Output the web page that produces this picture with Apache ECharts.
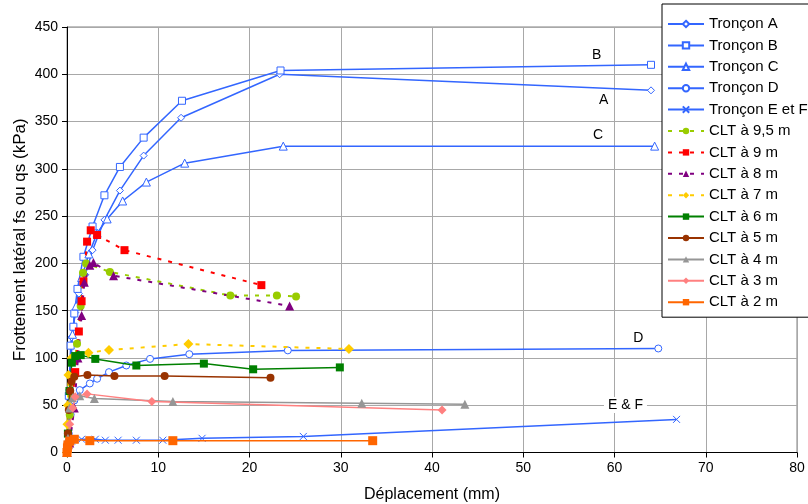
<!DOCTYPE html>
<html><head><meta charset="utf-8">
<script src="https://cdn.jsdelivr.net/npm/echarts@6/dist/echarts.min.js"></script>
<style>html,body{margin:0;padding:0;background:#fff}#c{width:808px;height:504px}</style>
</head><body><div id="c"></div>
<script>
// ---- data (x: déplacement mm, y: kPa) ----
const tronconA = [[0,0],[0.2,60],[0.5,122],[0.9,148],[1.3,168],[2.0,188],[2.8,214],[4.1,246],[5.8,277],[8.4,314],[12.5,354],[23.3,400],[64,383]];
const tronconB = [[0,0],[0.2,60],[0.4,113],[0.7,133],[0.8,147],[1.15,173],[1.8,207],[2.8,239],[4.1,272],[5.8,302],[8.4,333],[12.6,372],[23.4,404],[64,410]];
const tronconC = [[0,0],[0.3,70],[0.6,125],[1.0,155],[1.6,185],[2.4,210],[3.3,232],[4.4,247],[6.1,266],[8.7,286],[12.9,306],[23.7,324],[64.4,324]];
const tronconD = [[0,0],[0.2,20],[0.4,40],[0.8,55],[1.4,66],[2.5,73],[3.3,78],[4.6,85],[6.5,92],[9.1,99],[13.4,104],[24.2,108],[64.8,110]];
const tronconEF = [[0,0],[0.2,8],[0.5,12],[1.6,14],[3.1,14],[4.2,13],[5.6,13],[7.6,13],[10.5,13],[14.8,15],[25.9,17],[66.8,35]];
const clt95 = [[0,0],[0.3,40],[0.6,80],[1.1,115],[1.5,155],[1.75,190],[2.1,200],[4.7,191],[17.9,166],[23.0,166],[25.1,165]];
const clt9 = [[0,0],[0.9,85],[1.3,128],[1.6,160],[1.8,181],[2.2,223],[2.6,235],[3.3,230],[6.3,214],[21.3,177]];
const clt8 = [[0,0],[0.3,10],[0.8,47],[1.2,100],[1.6,145],[1.9,180],[2.5,198],[2.9,201],[5.1,187],[24.4,155]];
const clt7 = [[0,0],[0.05,30],[0.1,50],[0.16,82],[0.5,100],[2.35,105.5],[4.6,108.4],[13.3,114.7],[30.9,109.5]];
const clt6 = [[0,0],[0.1,20],[0.27,65],[0.53,95],[0.9,102],[1.5,103],[3.1,99],[7.6,92],[15.0,94],[20.4,88],[29.9,90]];
const clt5 = [[0,0],[0.1,20],[0.2,45],[0.35,65],[0.5,75],[0.8,80],[2.24,82],[5.2,81],[10.7,81],[22.3,79]];
const clt4 = [[0,0],[0.1,15],[0.27,47],[0.6,58],[1.4,60],[3.0,57],[11.6,54],[32.3,52],[43.6,51]];
const clt3 = [[0,0],[0.1,10],[0.3,30],[0.64,47],[0.9,59],[2.2,62],[9.3,54],[41.1,45]];
const clt2 = [[0,0],[0.05,5],[0.1,8],[0.3,12],[0.8,14],[2.5,12.5],[11.6,12.5],[33.5,12.5]];

const seriesNames = ['Tronçon A','Tronçon B','Tronçon C','Tronçon D','Tronçon E et F',
  'CLT à 9,5 m','CLT à 9 m','CLT à 8 m','CLT à 7 m','CLT à 6 m','CLT à 5 m','CLT à 4 m','CLT à 3 m','CLT à 2 m'];

const curveLabels = ['A','B','C','D','E & F'];
const curveLabelPos = [[58.8,372.8],[58.05,420.4],[58.2,335.8],[62.6,121],[61.2,50.2]];

const xTicks = {min:0,max:80,interval:10};
const yTicks = {min:0,max:450,interval:50};

// ---- styles ----
const blue = '#3366FF';
const FONT = 'Liberation Sans, Arial, sans-serif';
const crossPath = 'path://M0,0L10,10M10,0L0,10';

function tron(name, data, symbol, size, idx){
  return {
    name, type:'line', data, symbol, symbolSize:size, showAllSymbol:true,
    lineStyle:{color:blue, width:1.5},
    itemStyle:{color:'#fff', borderColor:blue, borderWidth:1},
    emphasis:{disabled:true}, z:2,
    markPoint:{
      symbol:'circle', symbolSize:0, silent:true,
      data:[{coord:curveLabelPos[idx], value:curveLabels[idx]}],
      label:{show:true, position:'inside', formatter:curveLabels[idx], color:'#000', fontSize:14, fontFamily:FONT,
        backgroundColor: curveLabels[idx]==='E & F' ? '#fff' : 'transparent', padding:[1,4]}
    }
  };
}
function clt(name, data, color, symbol, size, dashed){
  return {
    name, type:'line', data, symbol, symbolSize:size, showAllSymbol:true,
    lineStyle:{color, width: dashed?2:1.5, type: dashed?[4,7]:'solid'},
    itemStyle:{color, borderColor:color, borderWidth:0},
    emphasis:{disabled:true}, z:3
  };
}

const series = [
  tron(seriesNames[0], tronconA, 'diamond', 7, 0),
  tron(seriesNames[1], tronconB, 'rect', 7, 1),
  tron(seriesNames[2], tronconC, 'triangle', 8, 2),
  tron(seriesNames[3], tronconD, 'circle', 7, 3),
  tron(seriesNames[4], tronconEF, crossPath, 7, 4),
  clt(seriesNames[5], clt95, '#99CC00', 'circle', 8, true),
  clt(seriesNames[6], clt9, '#FF0000', 'rect', 8, true),
  clt(seriesNames[7], clt8, '#800080', 'triangle', 9, true),
  clt(seriesNames[8], clt7, '#FFCC00', 'diamond', 10, true),
  clt(seriesNames[9], clt6, '#008000', 'rect', 8, false),
  clt(seriesNames[10], clt5, '#993300', 'circle', 8, false),
  clt(seriesNames[11], clt4, '#969696', 'triangle', 9, false),
  clt(seriesNames[12], clt3, '#FF8080', 'diamond', 9, false),
  clt(seriesNames[13], clt2, '#FF6600', 'rect', 9, false)
];

const chart = echarts.init(document.getElementById('c'), null, {renderer:'canvas'});
chart.setOption({
  animation:false,
  backgroundColor:'#fff',
  textStyle:{fontFamily:FONT},
  grid:{left:67, right:11, top:27, bottom:51.5, show:true, borderColor:'#808080', borderWidth:1,
        containLabel:false, outerBoundsMode:'none'},
  legend:{
    data:seriesNames, orient:'vertical', left:662, top:4,
    backgroundColor:'#fff', borderColor:'#000', borderWidth:1,
    padding:[12,1,7,5], itemWidth:36, itemHeight:8, itemGap:5.4,
    textStyle:{fontSize:15, lineHeight:16, color:'#000', fontFamily:FONT, padding:[0,0,0,0]}
  },
  xAxis:{
    type:'value', min:xTicks.min, max:xTicks.max, interval:xTicks.interval,
    name:'Déplacement (mm)', nameLocation:'middle', nameGap:34, nameMoveOverlap:false,
    nameTextStyle:{fontSize:16, color:'#000', fontFamily:FONT},
    axisLine:{show:true, onZero:false, lineStyle:{color:'#000'}},
    axisTick:{show:true, length:5, lineStyle:{color:'#000'}},
    axisLabel:{fontSize:14, color:'#000', margin:9, fontFamily:FONT},
    splitLine:{show:true, lineStyle:{color:'#a8a8a8', width:1}}
  },
  yAxis:{
    type:'value', min:yTicks.min, max:yTicks.max, interval:yTicks.interval,
    name:'Frottement latéral fs ou qs (kPa)', nameLocation:'middle', nameGap:38, nameMoveOverlap:false,
    nameTextStyle:{fontSize:17, color:'#000', fontFamily:FONT},
    axisLine:{show:true, onZero:false, lineStyle:{color:'#000'}},
    axisTick:{show:true, length:5, lineStyle:{color:'#000'}},
    axisLabel:{fontSize:14, color:'#000', margin:9, fontFamily:FONT},
    splitLine:{show:true, lineStyle:{color:'#a8a8a8', width:1}}
  },
  series
});
</script></body></html>
